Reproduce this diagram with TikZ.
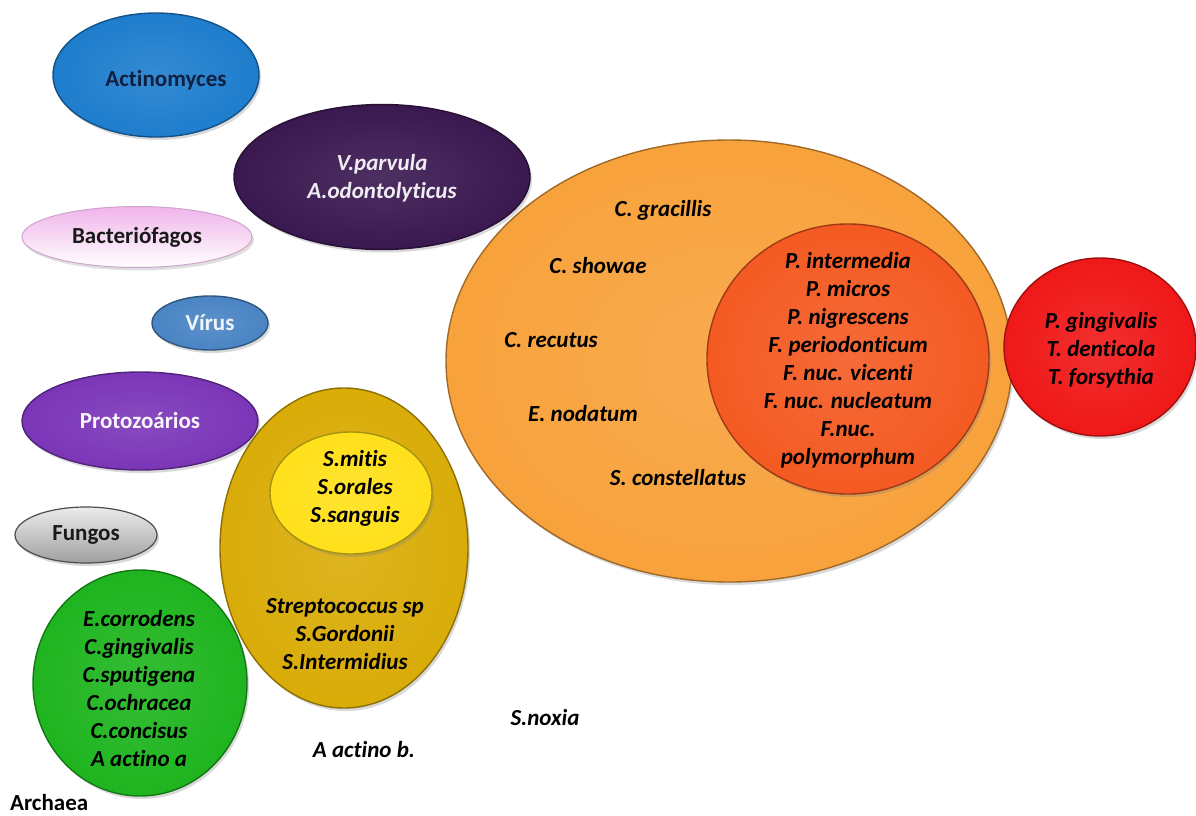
\documentclass[tikz,border=0pt]{standalone}
\usepackage{fontspec}
\setmainfont{Carlito}[Ligatures=NoCommon]
\usetikzlibrary{shapes.geometric,shadows}
\definecolor{cActin}{HTML}{1E7DCD}
\definecolor{cVpar}{HTML}{3A1850}
\definecolor{cBact}{HTML}{F0B4EA}
\definecolor{cVirus}{HTML}{4A84C4}
\definecolor{cProto}{HTML}{7B36B8}
\definecolor{cGreen}{HTML}{1FB51F}
\definecolor{cGold}{HTML}{D9AC08}
\definecolor{cYellow}{HTML}{FFE01A}
\definecolor{cOrange}{HTML}{F8A23C}
\definecolor{cRedOr}{HTML}{F45A22}
\definecolor{cRed}{HTML}{F01818}
\definecolor{cNavy}{HTML}{102040}
\tikzset{
  blob/.style={ellipse, inner sep=0pt, draw=#1!65!black, line width=1.4pt,
    inner color=#1!90!white, outer color=#1,
    drop shadow={shadow xshift=2pt, shadow yshift=-3pt, opacity=0.3}},
  lbl/.style={font=\fontsize{23}{28}\selectfont\bfseries, align=center, inner sep=0pt},
  sp/.style={lbl, font=\fontsize{23}{28}\selectfont\bfseries\itshape}
}
\begin{document}
\begin{tikzpicture}[x=1pt,y=-1pt]
\useasboundingbox (0,0) rectangle (1196,816);
% left column of groups
\node[blob=cActin, minimum width=206, minimum height=124] (actin) at (156,75) {};
\node[blob=cVpar, minimum width=296, minimum height=145] (vpar) at (382,177) {};
\node[ellipse, inner sep=0pt, minimum width=230, minimum height=61, draw=cBact!70!gray, line width=1pt,
  top color=cBact, bottom color=white,
  drop shadow={shadow xshift=2pt, shadow yshift=-3pt, opacity=0.25}] (bact) at (137,237) {};
\node[blob=cVirus, minimum width=116, minimum height=54] (virus) at (210,323) {};
\node[blob=cProto, minimum width=236, minimum height=98] (proto) at (140,421) {};
\node[ellipse, inner sep=0pt, minimum width=142, minimum height=56, draw=gray!60!black, line width=1.2pt,
  top color=gray!15, bottom color=gray!75,
  drop shadow={shadow xshift=2pt, shadow yshift=-3pt, opacity=0.3}] (fung) at (86,535) {};
\node[blob=cGreen, minimum width=214, minimum height=226] (green) at (140,683) {};
% streptococci
\node[blob=cGold, minimum width=248, minimum height=320] (gold) at (344,548) {};
\node[blob=cYellow, minimum width=162, minimum height=122] (yellow) at (351,493) {};
% orange complex
\node[blob=cOrange, minimum width=566, minimum height=442] (orange) at (729,361) {};
\node[blob=cRedOr, minimum width=282, minimum height=270] (redor) at (848,359) {};
% red complex
\node[blob=cRed, minimum width=192, minimum height=178] (red) at (1100,347) {};

% labels
\node[lbl, text=cNavy] (tActin) at (166,80) {Actinomyces};
\node[sp, text=white!92!cVpar] (tVpar) at (382,178) {V.parvula\\A.odontolyticus};
\node[lbl, text=black!90] (tBact) at (137,237) {Bacteriófagos};
\node[lbl, text=white!92!cVirus] (tVirus) at (210,323) {Vírus};
\node[lbl, text=white!95!cProto] (tProto) at (140,421) {Protozoários};
\node[lbl, text=black!90] (tFung) at (86,535) {Fungos};
\node[sp] (tGreen) at (139,689) {E.corrodens\\C.gingivalis\\C.sputigena\\C.ochracea\\C.concisus\\A actino a};
\node[sp] (tYellow) at (355,488) {S.mitis\\S.orales\\S.sanguis};
\node[sp] (tGold) at (345,634) {Streptococcus sp\\S.Gordonii\\S.Intermidius};
\node[sp] (tActb) at (364,750) {A actino b.};
\node[sp] (tNoxia) at (545,718) {S.noxia};
\node[lbl, anchor=west] (tArch) at (10,803) {Archaea};
\node[sp] (tGrac) at (663,210) {C. gracillis};
\node[sp] (tShow) at (598,266) {C. showae};
\node[sp] (tRecu) at (551,340) {C. recutus};
\node[sp] (tNoda) at (583,414) {E. nodatum};
\node[sp] (tCons) at (678,478) {S. constellatus};
\node[sp] (tRedOr) at (848,360) {P. intermedia\\P. micros\\P. nigrescens\\F. periodonticum\\F. nuc. vicenti\\F. nuc. nucleatum\\F.nuc.\\polymorphum};
\node[sp] (tRed) at (1101,350) {P. gingivalis\\T. denticola\\T. forsythia};
\end{tikzpicture}
\end{document}
